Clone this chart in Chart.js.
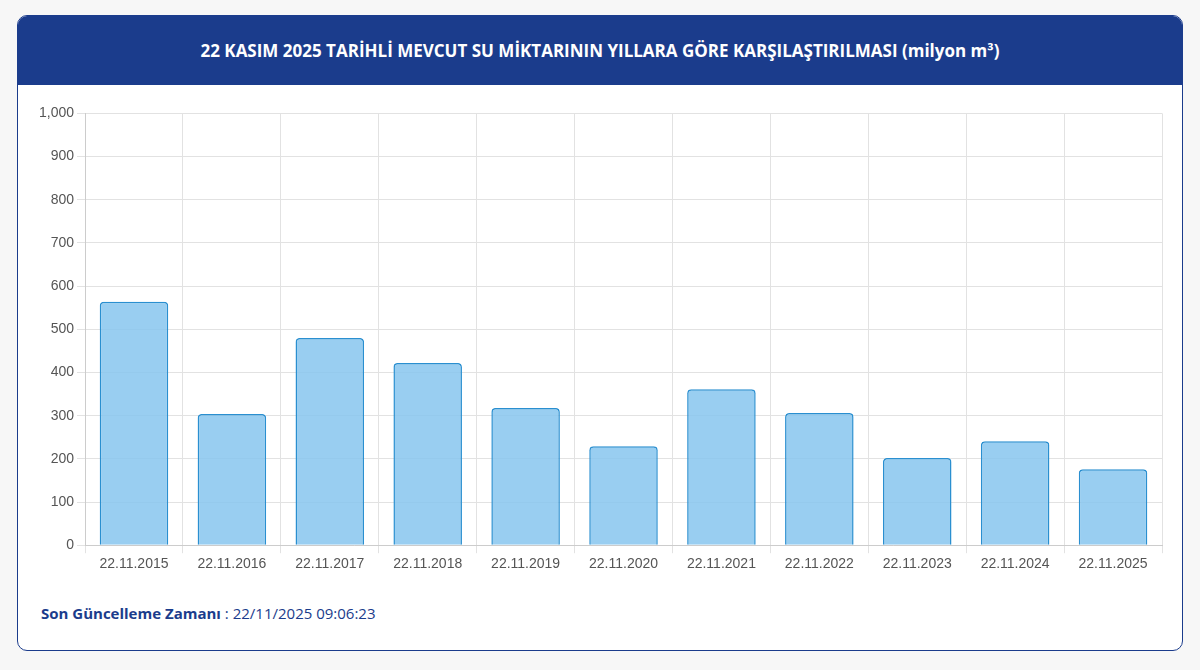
<!DOCTYPE html>
<html><head><meta charset="utf-8">
<script src="https://cdn.jsdelivr.net/npm/chart.js@4"></script>
<style>
body{margin:0;background:#f7f7f7;font-family:"Open Sans",sans-serif;}
#card{position:absolute;left:17px;top:15px;width:1164px;height:634px;border:1.5px solid #1b3c8c;border-radius:10px;background:#fff;overflow:hidden;}
#hdr{height:69px;background:#1b3c8c;color:#fff;font-weight:700;font-size:17px;display:flex;align-items:center;justify-content:center;}
#wrap{position:absolute;left:18px;top:86px;width:1132px;height:474px;}
#foot{position:absolute;left:23px;top:587px;font-size:15px;color:#1b3c8c;}
#foot b{font-weight:700;}
</style></head><body>
<div id="card"><div id="hdr">22 KASIM 2025 TARİHLİ MEVCUT SU MİKTARININ YILLARA GÖRE KARŞILAŞTIRILMASI (milyon m³)</div>
<div id="wrap"><canvas id="c"></canvas></div>
<div id="foot"><b>Son Güncelleme Zamanı</b> : 22/11/2025 09:06:23</div></div>
<script>
const categories=["22.11.2015","22.11.2016","22.11.2017","22.11.2018","22.11.2019","22.11.2020","22.11.2021","22.11.2022","22.11.2023","22.11.2024","22.11.2025"];
const values=[564,304,480,422,318,229,361,306,202,241,176];
new Chart(document.getElementById('c'),{type:'bar',
data:{labels:categories,datasets:[{data:values,backgroundColor:'rgba(135,198,238,0.85)',borderColor:'#2a8fd0',borderWidth:1.5,borderRadius:4,borderSkipped:'bottom',categoryPercentage:0.7,barPercentage:1}]},
options:{responsive:true,maintainAspectRatio:false,animation:false,plugins:{legend:{display:false},tooltip:{enabled:false}},
layout:{padding:{top:10,right:6}},
scales:{y:{min:0,max:1000,ticks:{stepSize:100,color:'#555',font:{size:14}},grid:{color:'#e2e2e2'},border:{color:'#ccc'}},
x:{ticks:{color:'#555',font:{size:14},maxRotation:0},grid:{color:'#e2e2e2',offset:true},border:{color:'#ccc'}}}}});
</script></body></html>
